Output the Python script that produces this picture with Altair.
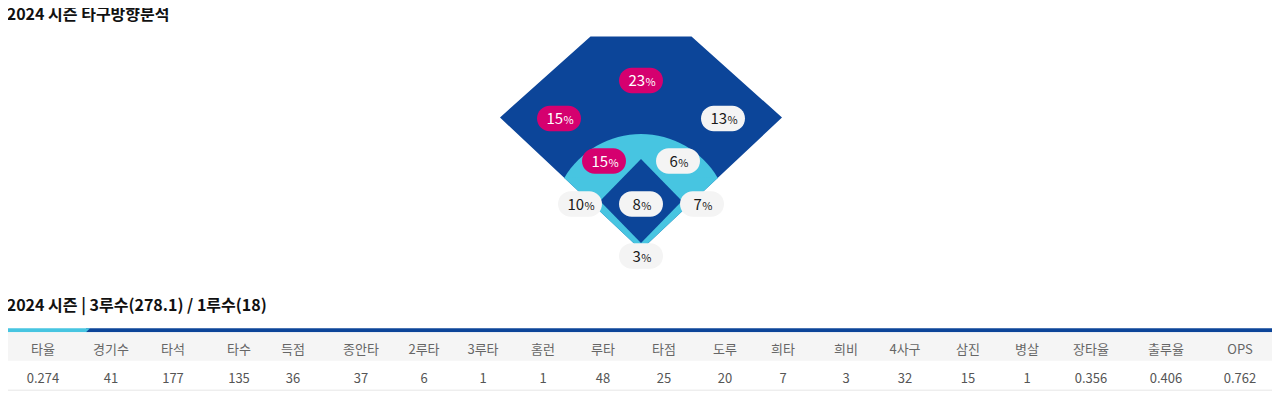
import math
import altair as alt
import pandas as pd

# ---------------- data ----------------
title_field = "2024 시즌 타구방향분석"
title_table = "2024 시즌 | 3루수(278.1) / 1루수(18)"

zones = ["좌익", "중견", "우익", "유격", "2루", "3루", "투수", "1루", "포수"]
zone_pct = [15, 23, 13, 15, 6, 10, 8, 7, 3]

stat_labels = ["타율", "경기수", "타석", "타수", "득점", "종안타", "2루타", "3루타", "홈런", "루타",
               "타점", "도루", "희타", "희비", "4사구", "삼진", "병살", "장타율", "출루율", "OPS"]
stat_values = ["0.274", "41", "177", "135", "36", "37", "6", "1", "1", "48",
               "25", "20", "7", "3", "32", "15", "1", "0.356", "0.406", "0.762"]

# ---------------- layout (page pixels) ----------------
W, H = 1264, 386
FONT = "Noto Sans CJK KR"
DARK = "#0c4599"
LIGHT = "#47c5e1"
PINK = "#d5006f"
PILL = "#f4f4f4"

# field geometry
HX, HY = 641, 250            # home plate
CORNER_DX, CORNER_Y = 141, 117.5
TOP_Y, TOP_HALF = 36.5, 50.5
SLOPE = (HY - CORNER_Y) / CORNER_DX
CX, CY, CR = 641, 223, 89    # infield circle
DX, DY, DH, DV = 641, 201, 41, 42  # inner diamond

# label anchors for each zone
zone_x = [559, 641, 723, 604, 678, 580, 641, 702, 641]
zone_y = [118.5, 80.5, 118.5, 161, 161, 204, 204, 204, 256]
PILL_W, PILL_H = 44, 25.5

# table columns
col_x = [43, 111, 173, 239, 293, 361, 424, 483, 543, 603,
         664, 725, 783, 846, 905, 968, 1027, 1091, 1166, 1240]
T_L, T_R = 6.7, 1275.5
BAR_T, BAR_B = 328.3, 332.3
HEAD_B = 360.7
ROW_B = 390.2

xs = alt.Scale(domain=[8, 8 + W], nice=False, zero=False)
ys = alt.Scale(domain=[8, 8 + H], nice=False, zero=False, reverse=True)


def X(f):
    return alt.X(f, type="quantitative", scale=xs, axis=None)


def Y(f):
    return alt.Y(f, type="quantitative", scale=ys, axis=None)


# ---------------- field shapes ----------------
ox = [HX - CORNER_DX, HX - TOP_HALF, HX, HX + TOP_HALF, HX + CORNER_DX]
outer = pd.DataFrame({
    "x": ox,
    "y": [CORNER_Y, TOP_Y, TOP_Y, TOP_Y, CORNER_Y],
    "y2": [HY - SLOPE * abs(v - HX) for v in ox],
})

# intersection of foul line with infield circle
a = 1 + SLOPE ** 2
b = -2 * SLOPE * (HY - CY)
c = (HY - CY) ** 2 - CR ** 2
t = (-b + math.sqrt(b * b - 4 * a * c)) / (2 * a)
ix, iy = t, HY - SLOPE * t
ang = math.atan2(ix, CY - iy)

wedge = pd.DataFrame({"x": [CX], "y": [CY]})
lower = pd.DataFrame({
    "x": [HX - ix, HX, HX + ix],
    "y": [iy, iy - 3, iy],
    "y2": [iy, HY, iy],
})
diamond = pd.DataFrame({
    "x": [DX - DH, DX, DX + DH],
    "y": [DY, DY - DV, DY],
    "y2": [DY, DY + DV, DY],
})

layers = []
layers.append(alt.Chart(outer).mark_area(color=DARK, opacity=1).encode(x=X("x"), y=Y("y"), y2="y2"))
layers.append(alt.Chart(wedge).mark_arc(color=LIGHT, radius=CR,
                                        theta=2 * math.pi - ang, theta2=2 * math.pi + ang)
              .encode(x=X("x"), y=Y("y")))
layers.append(alt.Chart(lower).mark_area(color=LIGHT, opacity=1).encode(x=X("x"), y=Y("y"), y2="y2"))
layers.append(alt.Chart(diamond).mark_area(color=DARK, opacity=1).encode(x=X("x"), y=Y("y"), y2="y2"))

# ---------------- pills ----------------
NUM_W, PCT_W = 8.6, 9.0
pills = pd.DataFrame({"zone": zones, "pct": zone_pct, "cx": zone_x, "cy": zone_y})
pills["x1"] = pills.cx - PILL_W / 2
pills["x2"] = pills.cx + PILL_W / 2
pills["y1"] = pills.cy - PILL_H / 2
pills["y2"] = pills.cy + PILL_H / 2
pills["tx"] = pills.cx + (pills.pct.astype(str).str.len() * NUM_W - PCT_W) / 2
pills["ty"] = pills.cy + 5.5
pills["num"] = pills.pct.astype(str)
pills["sym"] = "%"

hot = alt.datum.pct >= 15
layers.append(alt.Chart(pills).mark_rect(cornerRadius=12.75).encode(
    x=X("x1"), x2="x2", y=Y("y1"), y2="y2",
    color=alt.when(hot).then(alt.value(PINK)).otherwise(alt.value(PILL))))
layers.append(alt.Chart(pills).mark_text(font=FONT, fontSize=15, align="right", baseline="alphabetic").encode(
    x=X("tx"), y=Y("ty"), text="num:N",
    color=alt.when(hot).then(alt.value("#ffffff")).otherwise(alt.value("#1a1a1a"))))
layers.append(alt.Chart(pills).mark_text(font=FONT, fontSize=11, align="left", baseline="alphabetic", dx=0.5).encode(
    x=X("tx"), y=Y("ty"), text="sym:N",
    color=alt.when(hot).then(alt.value("#ffffff")).otherwise(alt.value("#1a1a1a"))))

# ---------------- titles ----------------
titles = pd.DataFrame({"x": [6.7, 6.7], "y": [20.0, 310.5], "t": [title_field, title_table]})
layers.append(alt.Chart(titles).mark_text(font=FONT, fontSize=16, fontWeight="bold", align="left",
                                          baseline="alphabetic", color="#111111")
              .encode(x=X("x"), y=Y("y"), text="t:N"))

# ---------------- table ----------------
bar = pd.DataFrame({"x": [86], "x2": [T_R], "y": [BAR_T], "y2": [BAR_B]})
layers.append(alt.Chart(bar).mark_rect(color=DARK).encode(x=X("x"), x2="x2", y=Y("y"), y2="y2"))
bar_l = pd.DataFrame({"x": [T_L, 86, 90], "y": [BAR_T, BAR_T, BAR_T], "y2": [BAR_B, BAR_B, BAR_T]})
layers.append(alt.Chart(bar_l).mark_area(color=LIGHT, opacity=1).encode(x=X("x"), y=Y("y"), y2="y2"))

head = pd.DataFrame({"x": [T_L], "x2": [T_R], "y": [BAR_B], "y2": [HEAD_B]})
layers.append(alt.Chart(head).mark_rect(color="#f5f5f5").encode(x=X("x"), x2="x2", y=Y("y"), y2="y2"))
border = pd.DataFrame({"x": [T_L], "x2": [T_R], "y": [ROW_B]})
layers.append(alt.Chart(border).mark_rule(color="#e6e6e6", strokeWidth=1).encode(x=X("x"), x2="x2", y=Y("y")))

cols = pd.DataFrame({"x": col_x, "lab": stat_labels, "val": stat_values})
cols["hy"] = 354.0
cols["vy"] = 382.5
layers.append(alt.Chart(cols).mark_text(font=FONT, fontSize=13, color="#666666", baseline="alphabetic")
              .encode(x=X("x"), y=Y("hy"), text="lab:N"))
layers.append(alt.Chart(cols).mark_text(font=FONT, fontSize=13, color="#555555", baseline="alphabetic")
              .encode(x=X("x"), y=Y("vy"), text="val:N"))

chart = alt.layer(*layers).properties(
    width=W, height=H, autosize=alt.AutoSizeParams(type="none"), padding=0
).configure_view(strokeWidth=0)

chart.save("out.html", embed_options={"renderer": "svg", "actions": False})
